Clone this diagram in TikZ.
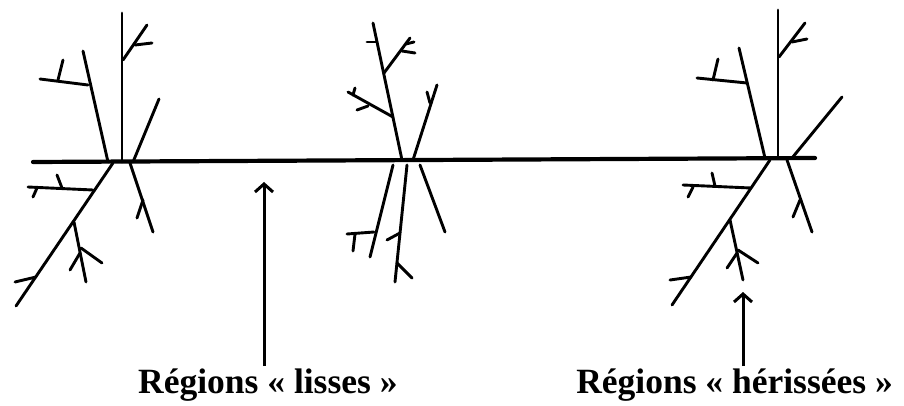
\documentclass[tikz,border=0pt]{standalone}
\usepackage{fontspec}
\setmainfont{Liberation Serif}
\usetikzlibrary{arrows.meta}
\tikzset{
  br/.style={line width=2.9pt, line cap=round},
  axisline/.style={line width=4.2pt, line cap=round},
  pointer/.style={line width=3pt, -{Straight Barb[length=8pt,width=18pt,line width=3pt]}},
  lbl/.style={font=\bfseries\fontsize{35.5}{40}\selectfont, inner sep=0pt}
}
\begin{document}
\begin{tikzpicture}[x=1pt,y=-1pt]
\useasboundingbox (0,0) rectangle (904,406);
% main axis
\draw[axisline] (33,162) -- (815,158);
% ---- cluster 1 ----
\draw[br] (122,13) -- (122,162);
\draw[br] (123,60) -- (147,25);
\draw[br] (135,45) -- (152,43);
\draw[br] (108,162) -- (83,51);
\draw[br] (88,85) -- (40,79);
\draw[br] (58,80) -- (63,60);
\draw[br] (133,162) -- (159,99);
\draw[br] (113,163) -- (16,306);
\draw[br] (93,190) -- (28,187);
\draw[br] (57,175) -- (62,188);
\draw[br] (33,197) -- (37,188);
\draw[br] (74,222) -- (86,282);
\draw[br] (81,248) -- (102,263);
\draw[br] (80,253) -- (70,270);
\draw[br] (36,277) -- (15,282);
\draw[br] (130,163) -- (153,232);
\draw[br] (143,200) -- (137,218);
% ---- cluster 2 ----
\draw[br] (402,160) -- (373,23);
\draw[br] (377,42) -- (367,42);
\draw[br] (384,73) -- (410,38);
\draw[br] (402,51) -- (415,53);
\draw[br] (406,44) -- (414,42);
\draw[br] (393,117) -- (348,92);
\draw[br] (368,106) -- (357,110);
\draw[br] (353,95) -- (355,88);
\draw[br] (413,160) -- (437,85);
\draw[br] (430,103) -- (427,92);
\draw[br] (393,165) -- (370,257);
\draw[br] (374,232) -- (347,234);
\draw[br] (355,234) -- (353,251);
\draw[br] (407,165) -- (395,282);
\draw[br] (400,233) -- (387,240);
\draw[br] (397,263) -- (412,278);
\draw[br] (420,165) -- (445,232);
% ---- cluster 3 ----
\draw[br] (778,10) -- (778,158);
\draw[br] (779,57) -- (805,23);
\draw[br] (792,42) -- (807,39);
\draw[br] (765,158) -- (739,48);
\draw[br] (747,83) -- (697,78);
\draw[br] (713,80) -- (718,59);
\draw[br] (792,158) -- (842,97);
\draw[br] (770,160) -- (672,305);
\draw[br] (751,188) -- (683,185);
\draw[br] (712,173) -- (715,186);
\draw[br] (688,197) -- (693,187);
\draw[br] (730,220) -- (743,280);
\draw[br] (738,250) -- (758,263);
\draw[br] (737,253) -- (727,268);
\draw[br] (691,277) -- (670,280);
\draw[br] (787,160) -- (812,232);
\draw[br] (800,200) -- (793,217);
% ---- labels and pointers ----
\node[lbl, anchor=base west] (smooth) at (138,393) {Régions « lisses »};
\node[lbl, anchor=base east] (spiky) at (893,393) {Régions « hérissées »};
\coordinate (smoothtail) at (264,366);
\coordinate (smoothtip) at (264,182);
\coordinate (spikytail) at (743,366);
\coordinate (spikytip) at (743,292);
\draw[pointer] (smoothtail) -- (smoothtip);
\draw[pointer] (spikytail) -- (spikytip);
\end{tikzpicture}
\end{document}
